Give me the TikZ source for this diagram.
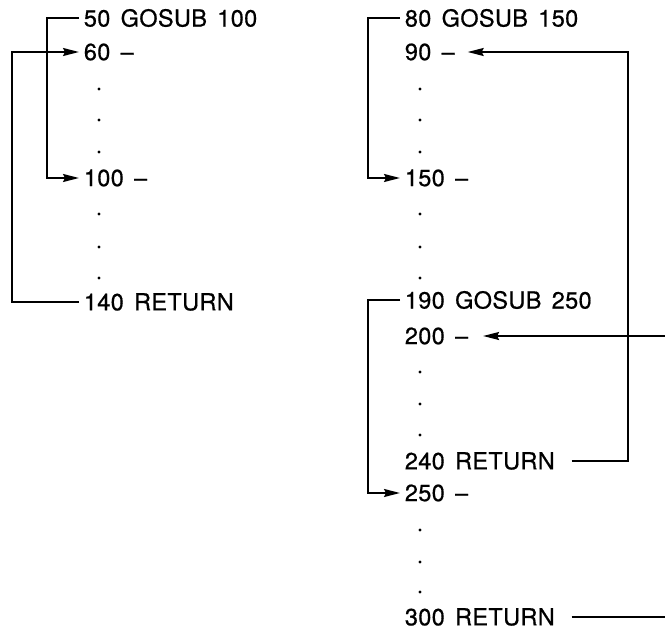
\documentclass[tikz,border=0pt]{standalone}
\usepackage{fontspec}
\setmainfont{TeX Gyre Heros}[LetterSpace=1.5, WordSpace=1.5, FakeBold=0.6]
\usetikzlibrary{arrows.meta}

\begin{document}

\begin{tikzpicture}[> = {Stealth[length = 16pt, width = 8pt, inset = 2pt]}, x = 1pt, y = -1pt, line width = 1.8pt,
	stmt/.style = {anchor = west, inner xsep = 4pt, inner ysep = 0pt, font = \fontsize{23.5}{28}\selectfont}]

	% Page frame
	
	\useasboundingbox (0, 0) rectangle (665, 629);
	
	% Listing on the left
	
	\node [stmt] (n50) at (79, 18) {50 GOSUB 100};
	\node [stmt] (n60) at (79, 52) {60 --};
	\node [stmt] (n100) at (79, 178) {100 --};
	\node [stmt] (n140) at (79, 302) {140 RETURN};
	
	\foreach \y in {89, 120, 152, 214, 247, 278}
		\fill (99, \y) circle (1.7);
	
	% Listing on the right
	
	\node [stmt] (n80) at (400, 18) {80 GOSUB 150};
	\node [stmt] (n90) at (400, 52) {90 --};
	\node [stmt] (n150) at (400, 178) {150 --};
	\node [stmt] (n190) at (400, 300) {190 GOSUB 250};
	\node [stmt] (n200) at (400, 336) {200 --};
	\node [stmt] (n240) at (400, 461) {240 RETURN};
	\node [stmt] (n250) at (400, 493) {250 --};
	\node [stmt] (n300) at (400, 617) {300 RETURN};
	
	\foreach \y in {89, 120, 152, 214, 247, 278, 372, 404, 435, 530, 562, 592}
		\fill (420, \y) circle (1.7);
	
	% Where the jump lines turn
	
	\coordinate (lin) at (47, 0);
	\coordinate (lout) at (12, 0);
	\coordinate (rin) at (368, 0);
	\coordinate (rout) at (628, 0);
	\coordinate (rim) at (665, 0);
	
	% Jumps and returns
	
	\begin{scope}[->]
	
		\draw (n50.west) -| (lin |- n100) -- (n100.west);
		\draw (n140.west) -| (lout |- n60) -- (n60.west);
		
		\draw (n80.west) -| (rin |- n150) -- (n150.west);
		\draw (n190.west) -| (rin |- n250) -- (n250.west);
		
		\draw [shorten < = 12pt, shorten > = 8pt] (n240.east) -| (rout |- n90) -- (n90.east);
		\draw [shorten > = 10pt] (rim |- n200) -- (n200.east);
		
	\end{scope}
	
	\draw [shorten < = 12pt] (n300.east) -- (rim |- n300);
		
\end{tikzpicture}

\end{document}
